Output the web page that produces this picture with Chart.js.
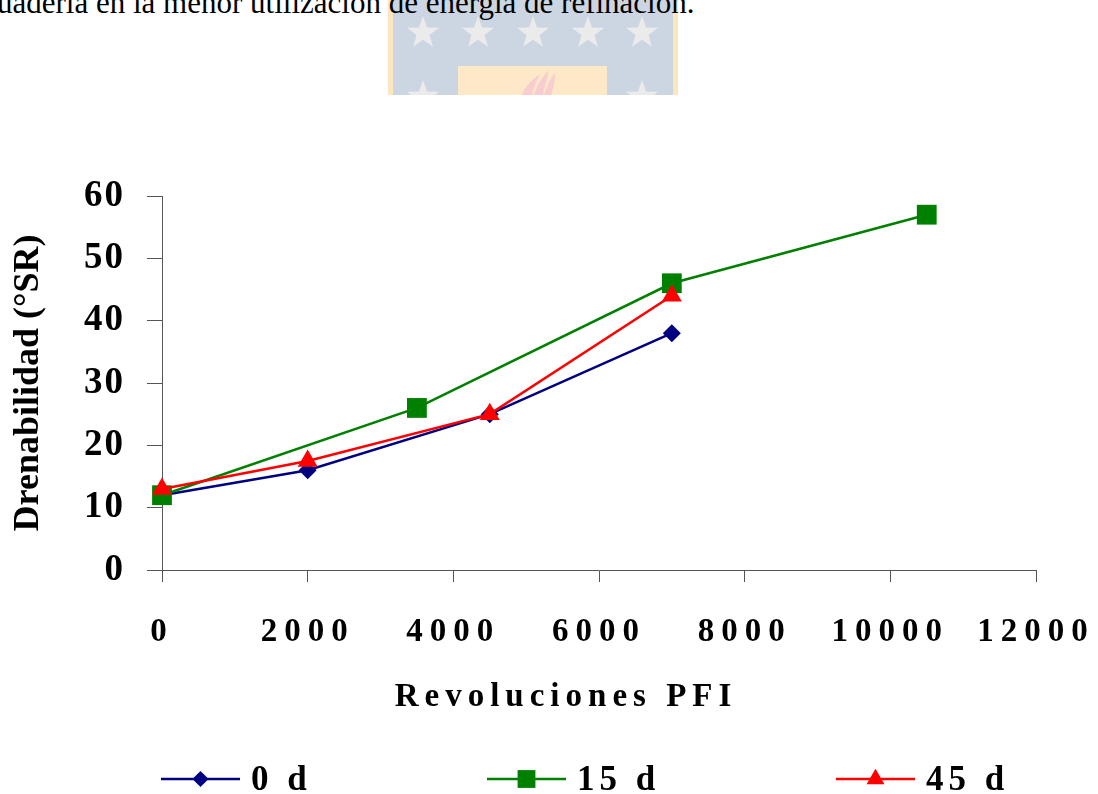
<!DOCTYPE html>
<html lang="es">
<head>
<meta charset="utf-8">
<title>Drenabilidad vs revoluciones PFI</title>
<script src="https://cdn.jsdelivr.net/npm/chart.js@4.4.1/dist/chart.umd.min.js"></script>
<style>
  html, body { margin: 0; padding: 0; background: #fff; }
  #pagina { position: relative; width: 1098px; height: 794px; overflow: hidden; }
  #logo { position: absolute; left: 386px; top: 0; }
  #texto {
    position: absolute; left: -3px; top: -13px;
    font: 31px/31px "Liberation Serif", "Times New Roman", serif;
    color: #000; white-space: nowrap;
  }
  #grafico { position: absolute; left: 0; top: 0; }
</style>
</head>
<body>
<div id="pagina">
  <svg id="logo" width="294" height="95" viewBox="0 0 294 95">
    <rect x="2" y="0" width="290" height="95" fill="#fce6bd"/>
    <rect x="7" y="0" width="280" height="95" fill="#cbd6e2"/>
    <g id="estrellas" fill="#ebebeb"></g>
    <rect x="72" y="66" width="149" height="29" fill="#fde9c8"/>
    <g fill="#f7c4d2" opacity="0.75">
      <path d="M136 95 C139 86 146 80 154 74 C150 82 147 89 146 95 Z"/>
      <path d="M148 95 C151 84 157 77 163 70 C161 80 158 88 157 95 Z"/>
      <path d="M158 95 C161 85 165 78 169 73 C169 82 167 89 165 95 Z"/>
    </g>
  </svg>
  <div id="texto">uadería en la menor utilización de energía de refinación.</div>
  <canvas id="grafico" width="1098" height="794"></canvas>
</div>
<script>
// estrellas del logo de fondo
(function () {
  const g = document.getElementById('estrellas');
  const centros = [[37, 33], [92, 33], [147, 33], [202, 33], [256, 33], [37, 97], [256, 97]];
  centros.forEach(([cx, cy]) => {
    const pts = [];
    for (let k = 0; k < 10; k++) {
      const r = k % 2 ? 6.8 : 17;
      const a = -Math.PI / 2 + k * Math.PI / 5;
      pts.push((cx + r * Math.cos(a)).toFixed(1) + ',' + (cy + r * Math.sin(a)).toFixed(1));
    }
    const p = document.createElementNS('http://www.w3.org/2000/svg', 'polygon');
    p.setAttribute('points', pts.join(' '));
    g.appendChild(p);
  });
})();

// datos
const revoluciones0 = [0, 2000, 4500, 7000];
const drenabilidad0 = [12, 16, 25, 38];
const revoluciones15 = [0, 3500, 7000, 10500];
const drenabilidad15 = [12, 26, 46, 57];
const revoluciones45 = [0, 2000, 4500, 7000];
const drenabilidad45 = [13, 17.5, 25, 44];
const series = ['0 d', '15 d', '45 d'];
const ticksX = [0, 2000, 4000, 6000, 8000, 10000, 12000];
const ticksY = [0, 10, 20, 30, 40, 50, 60];

const puntos = (xs, ys) => xs.map((x, i) => ({ x, y: ys[i] }));
const fuente = '"Liberation Serif", "Times New Roman", serif';
const colorEje = '#555';

Chart.defaults.font.family = fuente;
Chart.defaults.color = '#000';

// espaciado entre letras de las etiquetas de cada eje
const espaciado = {
  id: 'espaciado',
  afterLayout(chart, args, opts) {
    Object.entries(opts.ejes).forEach(([id, sp]) => {
      const eje = chart.scales[id];
      if (!eje || eje._espaciado) return;
      const dibujar = eje.drawLabels.bind(eje);
      eje.drawLabels = (area) => {
        const c = eje.ctx;
        const antes = c.letterSpacing;
        c.letterSpacing = sp;
        dibujar(area);
        c.letterSpacing = antes;
      };
      eje._espaciado = true;
    });
  }
};

// título del eje x y leyenda inferior
const rotulos = {
  id: 'rotulos',
  afterDraw(chart, args, o) {
    const { ctx } = chart;
    ctx.save();
    ctx.fillStyle = '#000';
    ctx.letterSpacing = o.espacioTitulo;
    ctx.font = 'bold ' + o.tamTitulo + 'px ' + fuente;
    ctx.textAlign = 'center';
    ctx.textBaseline = 'middle';
    ctx.fillText(o.tituloX, o.tituloPos[0], o.tituloPos[1]);

    chart.data.datasets.forEach((ds, i) => {
      const x0 = o.leyendaX[i];
      const y = o.leyendaY;
      ctx.strokeStyle = ds.borderColor;
      ctx.lineWidth = ds.borderWidth;
      ctx.beginPath();
      ctx.moveTo(x0, y);
      ctx.lineTo(x0 + o.largoLinea, y);
      ctx.stroke();
      ctx.fillStyle = ds.backgroundColor;
      Chart.helpers.drawPoint(ctx, {
        pointStyle: ds.pointStyle, radius: ds.pointRadius * 0.9, rotation: 0, borderWidth: 0
      }, x0 + o.largoLinea / 2, y);
      ctx.fillStyle = '#000';
      ctx.textAlign = 'left';
      ctx.textBaseline = 'alphabetic';
      ctx.letterSpacing = o.espacioLeyenda;
      ctx.font = 'bold ' + o.tamLeyenda + 'px ' + fuente;
      ctx.fillText(ds.label, x0 + o.largoLinea + 11, o.leyendaBase);
    });
    ctx.restore();
  }
};

const comun = {
  borderWidth: 2.5,
  tension: 0,
  pointBorderWidth: 0,
  clip: false,
  fill: false
};

new Chart(document.getElementById('grafico'), {
  type: 'line',
  data: {
    datasets: [
      Object.assign({
        label: series[0], data: puntos(revoluciones0, drenabilidad0),
        borderColor: '#000080', backgroundColor: '#000080',
        pointStyle: 'rectRot', pointRadius: 9, pointHoverRadius: 9, order: 3
      }, comun),
      Object.assign({
        label: series[1], data: puntos(revoluciones15, drenabilidad15),
        borderColor: '#008000', backgroundColor: '#008000',
        pointStyle: 'rect', pointRadius: 14, pointHoverRadius: 14, order: 2
      }, comun),
      Object.assign({
        label: series[2], data: puntos(revoluciones45, drenabilidad45),
        borderColor: '#ff0000', backgroundColor: '#ff0000',
        pointStyle: 'triangle', pointRadius: 11.5, pointHoverRadius: 11.5, order: 1
      }, comun)
    ]
  },
  options: {
    responsive: false,
    animation: false,
    events: [],
    layout: { padding: { top: 196, right: 62, bottom: 0, left: 0 } },
    plugins: {
      legend: { display: false },
      tooltip: { enabled: false },
      espaciado: { ejes: { x: '7px', y: '2px' } },
      rotulos: {
        tituloX: 'Revoluciones PFI',
        tituloPos: [566, 697],
        tamTitulo: 33,
        espacioTitulo: '6px',
        leyendaX: [161, 487, 836],
        leyendaY: 779,
        leyendaBase: 790,
        largoLinea: 79,
        tamLeyenda: 35,
        espacioLeyenda: '5px'
      }
    },
    scales: {
      x: {
        type: 'linear',
        min: 0,
        max: 12000,
        afterBuildTicks: (s) => { s.ticks = ticksX.map((v) => ({ value: v })); },
        afterFit: (s) => {
          s.height = 224;
          // el margen lateral lo fija layout.padding
          s.paddingLeft = 0;
          s.paddingRight = 0;
        },
        border: { display: true, color: colorEje, width: 1 },
        grid: { display: true, drawOnChartArea: false, drawTicks: true, tickLength: 12, color: colorEje, lineWidth: 1 },
        ticks: {
          font: { size: 33, weight: 'bold' }, color: '#000', padding: 31,
          maxRotation: 0, autoSkip: false, callback: (v) => String(v)
        },
        title: { display: false }
      },
      y: {
        min: 0,
        max: 60,
        afterBuildTicks: (s) => { s.ticks = ticksY.map((v) => ({ value: v })); },
        afterFit: (s) => { s.width = 162; },
        border: { display: true, color: colorEje, width: 1 },
        grid: { display: true, drawOnChartArea: false, drawTicks: true, tickLength: 15, color: colorEje, lineWidth: 1 },
        ticks: { font: { size: 37, weight: 'bold' }, color: '#000', padding: 22, callback: (v) => String(v) },
        title: {
          display: true,
          text: 'Drenabilidad (°SR)',
          font: { size: 36, weight: 'bold' },
          color: '#000',
          padding: { top: 7, bottom: 0 }
        }
      }
    }
  },
  plugins: [espaciado, rotulos]
});
</script>
</body>
</html>
